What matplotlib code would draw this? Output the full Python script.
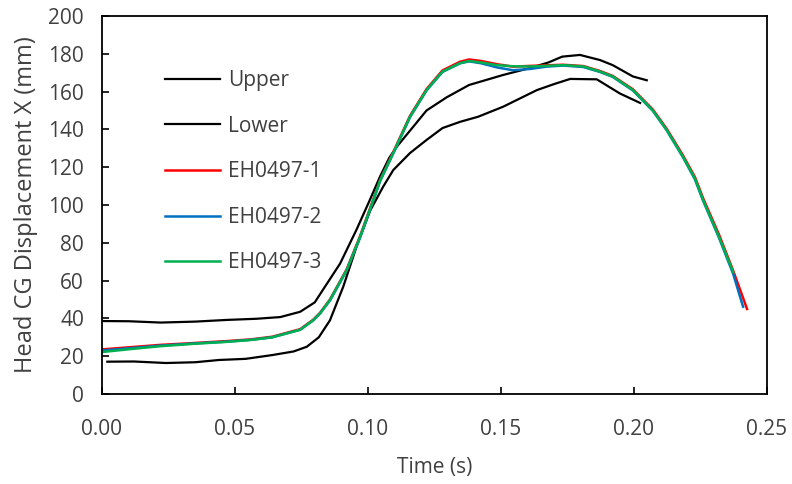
import matplotlib
matplotlib.use("Agg")
import matplotlib.pyplot as plt

# ---- data ----
t_upper = [0.000, 0.010, 0.022, 0.035, 0.047, 0.058, 0.067, 0.0745, 0.080, 0.083,
           0.0895, 0.0957, 0.1008, 0.1045, 0.108, 0.1108, 0.117, 0.122, 0.1296,
           0.138, 0.1508, 0.161, 0.168, 0.173, 0.1797, 0.1872, 0.192, 0.1996, 0.2048]
y_upper = [38.6, 38.5, 37.8, 38.3, 39.2, 39.8, 40.7, 43.5, 48.5, 55,
           69, 87, 103, 115, 125, 130.8, 141.4, 150, 157,
           163.5, 168.8, 172.5, 175.5, 178.5, 179.4, 176.7, 174, 168, 166]

t_lower = [0.002, 0.012, 0.024, 0.035, 0.044, 0.054, 0.064, 0.072, 0.077, 0.0815,
           0.0857, 0.0907, 0.0957, 0.1008, 0.1057, 0.1095, 0.1158, 0.122, 0.128,
           0.1346, 0.1414, 0.1508, 0.1635, 0.170, 0.176, 0.186, 0.1947, 0.2023]
y_lower = [17.1, 17.2, 16.4, 16.8, 18.0, 18.6, 20.6, 22.5, 25, 30,
           39, 56.8, 78, 97, 109.7, 118.5, 127.5, 134.4, 140.7,
           144, 146.7, 152, 160.8, 164, 166.7, 166.5, 159, 154]

t_eh1 = [0.000, 0.011, 0.022, 0.035, 0.047, 0.056, 0.064, 0.0745, 0.0794, 0.082,
         0.0857, 0.092, 0.097, 0.102, 0.1045, 0.1095, 0.1158, 0.122, 0.128, 0.1346,
         0.138, 0.1425, 0.1485, 0.1545, 0.161, 0.167, 0.1733, 0.181, 0.1872, 0.192,
         0.1996, 0.2071, 0.2123, 0.2184, 0.2229, 0.226, 0.232, 0.2373, 0.2425]
y_eh1 = [23.6, 24.8, 26.0, 27.0, 28.0, 28.9, 30.3, 34.3, 39.3, 43.0,
         50.0, 66.0, 83.5, 103, 113, 128, 147.2, 161.3, 171.2, 175.8,
         177.0, 176.2, 174.5, 173.2, 173.6, 173.9, 174.2, 173.5, 170.9, 168.3,
         161.2, 150.5, 140.3, 126.3, 114.8, 103.5, 84.2, 65.2, 45.0]

t_eh2 = [0.000, 0.011, 0.022, 0.035, 0.047, 0.056, 0.064, 0.0745, 0.0794, 0.082,
         0.0857, 0.092, 0.097, 0.102, 0.1045, 0.1095, 0.1158, 0.122, 0.128, 0.1346,
         0.138, 0.1425, 0.1485, 0.1545, 0.161, 0.167, 0.1733, 0.181, 0.1872, 0.192,
         0.1996, 0.2071, 0.2123, 0.2184, 0.2229, 0.226, 0.232, 0.2373, 0.241]
y_eh2 = [23.0, 24.3, 25.6, 26.8, 27.7, 28.7, 30.0, 34.0, 39.0, 42.7,
         49.5, 65.4, 82.8, 102.3, 112.5, 127.3, 146.5, 160.6, 170.4, 175.0,
         176.0, 175.0, 172.8, 171.3, 172.0, 173.2, 173.8, 173.0, 170.4, 167.8,
         160.6, 149.8, 139.5, 125.3, 113.6, 102.2, 82.5, 63.5, 46.2]

t_eh3 = [0.000, 0.011, 0.022, 0.035, 0.047, 0.056, 0.064, 0.0745, 0.0794, 0.082,
         0.0857, 0.092, 0.097, 0.102, 0.1045, 0.1095, 0.1158, 0.122, 0.128, 0.1346,
         0.138, 0.1425, 0.1485, 0.1545, 0.161, 0.167, 0.1733, 0.181, 0.1872, 0.192,
         0.1996, 0.2071, 0.2123, 0.2184, 0.2229, 0.226, 0.232, 0.2373]
y_eh3 = [22.2, 23.8, 25.3, 26.6, 27.6, 28.6, 30.0, 34.0, 39.0, 42.7,
         49.7, 65.6, 83.0, 102.6, 112.8, 127.5, 146.7, 160.8, 170.6, 175.0,
         176.2, 175.4, 174.0, 173.4, 173.3, 173.6, 174.0, 173.3, 170.6, 168.0,
         160.8, 150.0, 139.7, 125.6, 114.0, 102.6, 83.0, 64.5]

x_ticks = [0.00, 0.05, 0.10, 0.15, 0.20, 0.25]
x_tick_labels = ["0.00", "0.05", "0.10", "0.15", "0.20", "0.25"]
y_ticks = [0, 20, 40, 60, 80, 100, 120, 140, 160, 180, 200]

plt.rcParams['font.family'] = ['Open Sans', 'DejaVu Sans']

fig = plt.figure(figsize=(7.92, 4.84), dpi=100)
ax = fig.add_axes([102/792, 90/484, 665/792, 378/484])

text_col = '#404040'
ax.plot(t_upper, y_upper, color='black', lw=1.6, label='Upper')
ax.plot(t_lower, y_lower, color='black', lw=1.6, label='Lower')
ax.plot(t_eh1, y_eh1, color='#FF0000', lw=1.8, label='EH0497-1')
ax.plot(t_eh2, y_eh2, color='#0070C0', lw=1.8, label='EH0497-2')
ax.plot(t_eh3, y_eh3, color='#00B050', lw=1.8, label='EH0497-3')

ax.set_xlim(0, 0.25)
ax.set_ylim(0, 200)
ax.set_xticks(x_ticks)
ax.set_xticklabels(x_tick_labels)
ax.set_yticks(y_ticks)
ax.tick_params(direction='in', length=5, width=1.2, labelsize=15,
               labelcolor=text_col)
ax.tick_params(axis='y', pad=13)
ax.tick_params(axis='x', pad=18)
for s in ax.spines.values():
    s.set_linewidth(1.3)
    s.set_color('black')

ax.set_xlabel('Time (s)', fontsize=15, color=text_col, labelpad=12)
ax.set_ylabel('Head CG Displacement X (mm)', fontsize=17, color=text_col, labelpad=7)

leg = ax.legend(loc='upper left', bbox_to_anchor=(0.094, 0.857), frameon=False,
                fontsize=15, labelspacing=1.18, handlelength=2.65,
                handletextpad=0.38, borderaxespad=0, borderpad=0)
for txt in leg.get_texts():
    txt.set_color(text_col)

fig.savefig('out.png', dpi=100)
